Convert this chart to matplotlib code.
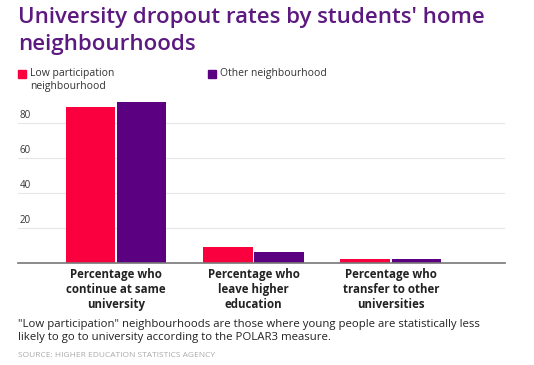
import matplotlib
matplotlib.use("Agg")
import matplotlib.pyplot as plt
import numpy as np

categories = ["Percentage who\ncontinue at same\nuniversity",
              "Percentage who\nleave higher\neducation",
              "Percentage who\ntransfer to other\nuniversities"]
low_participation = [88.9, 8.8, 2.3]
other_neighbourhood = [91.7, 6.1, 2.2]
series_names = ["Low participation\nneighbourhood", "Other neighbourhood"]
yticks = [20, 40, 60, 80]

RED = "#fb003f"
PURPLE = "#5b0080"
TITLE = "#5c1a80"

plt.rcParams["font.family"] = ["Open Sans", "DejaVu Sans"]

fig = plt.figure(figsize=(5.34, 3.65), dpi=100)
ax = fig.add_axes([18 / 534, 1 - 262.7 / 365, 487 / 534, 175 / 365])

x = np.arange(len(categories))
w = 0.362
ax.bar(x - w / 2 - 0.005, low_participation, w, color=RED)
ax.bar(x + w / 2 + 0.005, other_neighbourhood, w, color=PURPLE)

ax.set_xlim(-0.713, 2.83)
ax.set_ylim(0, 100)
for s in ["top", "right", "left"]:
    ax.spines[s].set_visible(False)
ax.spines["bottom"].set_color("#777777")
ax.spines["bottom"].set_linewidth(1.2)
ax.set_yticks(yticks)
ax.set_yticklabels([])
ax.tick_params(length=0)
ax.yaxis.grid(True, color="#e6e6e6", linewidth=0.8)
ax.set_axisbelow(True)
ax.set_xticks(x)
ax.set_xticklabels(categories, fontsize=8.3, fontweight="bold", color="#222222",
                   linespacing=1.2)
ax.tick_params(axis="x", pad=4)
for t in yticks:
    ax.text(0.003, t + 1.0, str(t), transform=ax.get_yaxis_transform(),
            fontsize=7, color="#333333", va="bottom", ha="left")

fig.text(18 / 534, 1 - 7 / 365, "University dropout rates by students' home\nneighbourhoods",
         fontsize=16, fontweight="semibold", color=TITLE, va="top", ha="left",
         linespacing=1.4)

# legend
fig.patches.append(plt.Rectangle((18 / 534, 1 - 78 / 365), 8 / 534, 8 / 365,
                                 transform=fig.transFigure, color=RED))
fig.text(30 / 534, 1 - 68 / 365, series_names[0], fontsize=7.5, color="#333333",
         va="top", ha="left", linespacing=1.2)
fig.patches.append(plt.Rectangle((208 / 534, 1 - 78 / 365), 8 / 534, 8 / 365,
                                 transform=fig.transFigure, color=PURPLE))
fig.text(220 / 534, 1 - 68 / 365, series_names[1], fontsize=7.5, color="#333333",
         va="top", ha="left")

fig.text(18 / 534, 1 - 319 / 365,
         "\"Low participation\" neighbourhoods are those where young people are statistically less\n"
         "likely to go to university according to the POLAR3 measure.",
         fontsize=8.2, color="#222222", va="top", ha="left", linespacing=1.25)
fig.text(18 / 534, 1 - 357 / 365, "SOURCE: HIGHER EDUCATION STATISTICS AGENCY",
         fontsize=6, color="#aaaaaa", va="baseline", ha="left")

fig.savefig("out.png", dpi=100)
